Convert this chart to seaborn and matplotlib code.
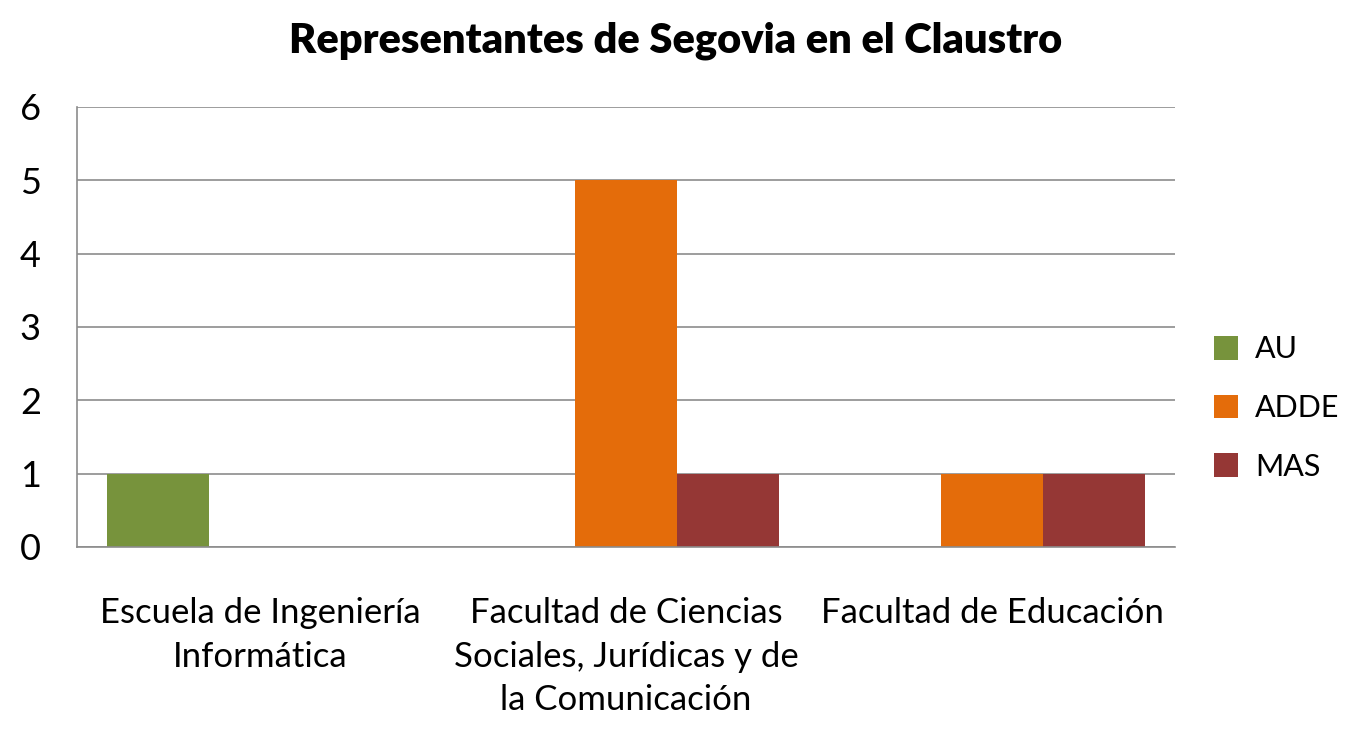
import matplotlib
matplotlib.use("Agg")
import matplotlib.pyplot as plt
import seaborn as sns
import pandas as pd
from matplotlib.patches import Patch

# data
escuelas = ["Escuela de Ingeniería\nInformática",
            "Facultad de Ciencias\nSociales, Jurídicas y de\nla Comunicación",
            "Facultad de Educación"]
listas = ["AU", "ADDE", "MAS"]
au = [1, 0, 0]
adde = [0, 5, 1]
mas = [0, 1, 1]
colores = ["#77933C", "#E46C0A", "#953735"]

df = pd.DataFrame({
    "escuela": escuelas * 3,
    "lista": ["AU"] * 3 + ["ADDE"] * 3 + ["MAS"] * 3,
    "valor": au + adde + mas,
})

sns.set_style("white")
plt.rcParams["font.family"] = ["Lato", "DejaVu Sans"]
plt.rcParams["text.color"] = "black"
plt.rcParams["xtick.color"] = "black"
plt.rcParams["ytick.color"] = "black"

fig = plt.figure(figsize=(13.52, 7.44), dpi=100)
ax = fig.add_axes([77 / 1352, 1 - 547 / 744, (1175 - 77) / 1352, (547 - 107) / 744])

sns.barplot(data=df, x="escuela", y="valor", hue="lista", hue_order=listas,
            palette=colores, width=0.835, gap=0, linewidth=0, saturation=1,
            ax=ax, legend=False)

ax.set_ylim(0, 6)
ax.set_xlim(-0.5, 2.5)
ax.set_yticks(range(7))
ax.yaxis.grid(True, color="#8c8c8c", linewidth=1.2)
ax.set_axisbelow(True)
for s in ["top", "right"]:
    ax.spines[s].set_visible(False)
for s in ["left", "bottom"]:
    ax.spines[s].set_color("#8c8c8c")
    ax.spines[s].set_linewidth(1.2)
ax.tick_params(axis="y", length=0, labelsize=26, pad=26)
ax.tick_params(axis="x", length=0, labelsize=25, pad=36)
ax.set_xlabel("")
ax.set_ylabel("")
for t in ax.get_xticklabels():
    t.set_linespacing(1.45)

fig.suptitle("Representantes de Segovia en el Claustro", x=676 / 1352, y=1 - 22 / 744,
             va="top", fontsize=30, fontweight="heavy")

handles = [Patch(facecolor=c, edgecolor="none") for c in colores]
fig.legend(handles, listas, loc="center left", bbox_to_anchor=(1214 / 1352, 1 - 408 / 744),
           frameon=False, fontsize=22, handlelength=0.8, handleheight=0.8,
           handletextpad=0.55, labelspacing=1.0, borderpad=0, borderaxespad=0)

fig.savefig("out.png", dpi=100)
